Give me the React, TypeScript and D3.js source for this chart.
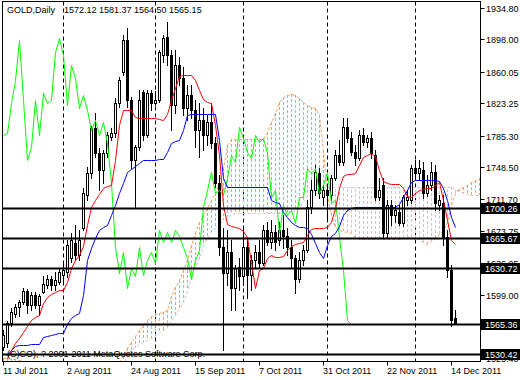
import React from 'react';
import * as d3 from 'd3';

const W = 520;
const H = 380;

const symbolTitle = 'GOLD,Daily';
const lastQuote = ['1572.12', '1581.37', '1564.50', '1565.15'];
const copyright = '(C)CO), ? 2001-2011 MetaQuotes Software Corp.';

const opens = [
  1538.2, 1542.9, 1566.3, 1576.8, 1585.0, 1590.9, 1603.7, 1587.3, 1599.0, 1587.3,
  1602.6, 1610.7, 1617.8, 1610.7, 1614.3, 1622.4, 1626.0, 1642.3, 1659.9, 1645.8,
  1677.4, 1716.0, 1741.8, 1794.4, 1765.2, 1745.3, 1765.2, 1783.9, 1788.6, 1823.7,
  1859.9, 1897.4, 1827.2, 1757.0, 1772.2, 1836.5, 1786.2, 1835.4, 1823.7, 1827.2,
  1879.8, 1900.9, 1879.8, 1821.3, 1868.1, 1852.9, 1817.8, 1833.0, 1815.5, 1792.1,
  1803.8, 1786.2, 1801.4, 1776.9, 1730.1, 1655.2, 1624.8, 1649.4, 1607.2, 1631.8,
  1621.3, 1655.2, 1622.4, 1640.0, 1649.4, 1636.5, 1675.1, 1661.1, 1672.8, 1663.4,
  1675.1, 1668.1, 1655.2, 1642.3, 1617.8, 1640.0, 1651.7, 1702.0, 1721.9, 1741.8,
  1713.7, 1721.9, 1716.0, 1735.9, 1762.8, 1754.7, 1795.6, 1782.7, 1766.3, 1759.3,
  1786.2, 1778.0, 1782.7, 1762.8, 1713.7, 1727.7, 1671.6, 1704.3, 1692.6, 1696.2,
  1683.3, 1710.2, 1710.2, 1747.6, 1741.8, 1745.3, 1718.4, 1727.7, 1743.0, 1704.3,
  1706.7, 1666.9, 1628.3, 1572.12,
];
const highs = [
  1558.1, 1568.6, 1583.8, 1588.5, 1593.2, 1607.2, 1606.1, 1602.6, 1602.6, 1600.2,
  1621.3, 1622.4, 1621.3, 1626.0, 1630.6, 1637.7, 1663.4, 1671.6, 1680.9, 1675.1,
  1724.2, 1748.8, 1796.7, 1812.0, 1771.0, 1768.7, 1789.7, 1794.4, 1829.5, 1854.1,
  1903.2, 1911.4, 1830.7, 1774.5, 1838.9, 1838.9, 1838.9, 1838.9, 1837.7, 1885.7,
  1903.2, 1918.4, 1885.7, 1885.7, 1877.5, 1865.8, 1844.7, 1844.7, 1827.2, 1823.7,
  1817.8, 1809.6, 1823.7, 1783.9, 1739.4, 1677.4, 1675.1, 1663.4, 1634.1, 1642.3,
  1677.4, 1666.9, 1645.8, 1657.5, 1663.4, 1680.9, 1684.5, 1686.8, 1680.9, 1684.5,
  1692.6, 1677.4, 1663.4, 1645.8, 1649.4, 1657.5, 1710.2, 1733.6, 1751.1, 1747.6,
  1727.7, 1726.6, 1739.4, 1768.7, 1780.4, 1806.1, 1806.1, 1789.7, 1774.5, 1792.1,
  1794.4, 1786.2, 1789.7, 1768.7, 1735.9, 1735.9, 1710.2, 1710.2, 1704.3, 1704.3,
  1716.0, 1721.9, 1751.1, 1757.0, 1757.0, 1754.7, 1739.4, 1754.7, 1751.1, 1716.0,
  1716.0, 1675.1, 1634.1, 1581.37,
];
const lows = [
  1534.7, 1538.2, 1562.8, 1573.3, 1574.5, 1588.5, 1578.0, 1581.5, 1583.8, 1575.6,
  1601.4, 1607.2, 1604.9, 1604.9, 1611.9, 1615.4, 1620.1, 1637.7, 1640.0, 1640.0,
  1675.1, 1710.2, 1735.9, 1760.5, 1721.9, 1730.1, 1760.5, 1780.4, 1783.9, 1819.0,
  1856.4, 1819.0, 1747.6, 1700.8, 1768.7, 1780.4, 1783.9, 1815.5, 1821.3, 1824.8,
  1871.6, 1868.1, 1792.1, 1812.0, 1844.7, 1809.6, 1803.8, 1806.1, 1772.2, 1760.5,
  1768.7, 1774.5, 1771.0, 1725.4, 1645.8, 1534.7, 1610.7, 1581.5, 1581.5, 1604.9,
  1610.7, 1595.5, 1604.9, 1630.6, 1630.6, 1634.1, 1657.5, 1654.0, 1651.7, 1657.5,
  1654.0, 1645.8, 1630.6, 1601.4, 1614.3, 1634.1, 1649.4, 1695.0, 1716.0, 1712.5,
  1704.3, 1686.8, 1710.2, 1733.6, 1751.1, 1751.1, 1778.0, 1762.8, 1751.1, 1757.0,
  1774.5, 1772.2, 1759.3, 1710.2, 1710.2, 1665.7, 1665.7, 1680.9, 1684.5, 1680.9,
  1679.8, 1704.3, 1706.7, 1735.9, 1733.6, 1712.5, 1714.9, 1721.9, 1698.5, 1698.5,
  1657.5, 1620.1, 1562.8, 1564.50,
];
const closes = [
  1552.2, 1566.3, 1579.2, 1585.0, 1590.9, 1603.7, 1587.3, 1599.0, 1587.3, 1597.9,
  1611.9, 1617.8, 1610.7, 1616.6, 1626.0, 1628.3, 1657.5, 1663.4, 1645.8, 1663.4,
  1718.4, 1741.8, 1794.4, 1765.2, 1745.3, 1765.2, 1786.2, 1788.6, 1823.7, 1850.6,
  1897.4, 1827.2, 1757.0, 1772.2, 1827.2, 1786.2, 1835.4, 1823.7, 1827.2, 1883.3,
  1899.7, 1879.8, 1821.3, 1868.1, 1852.9, 1817.8, 1833.0, 1815.5, 1792.1, 1803.8,
  1786.2, 1801.4, 1776.9, 1730.1, 1655.2, 1624.8, 1649.4, 1607.2, 1630.6, 1621.3,
  1655.2, 1622.4, 1640.0, 1649.4, 1636.5, 1675.1, 1661.1, 1672.8, 1661.1, 1675.1,
  1668.1, 1655.2, 1642.3, 1617.8, 1640.0, 1651.7, 1702.0, 1721.9, 1743.0, 1718.4,
  1721.9, 1716.0, 1735.9, 1762.8, 1754.7, 1795.6, 1782.7, 1766.3, 1759.3, 1786.2,
  1778.0, 1782.7, 1765.2, 1713.7, 1721.9, 1671.6, 1704.3, 1692.6, 1698.5, 1683.3,
  1713.7, 1713.7, 1747.6, 1741.8, 1747.6, 1718.4, 1727.7, 1743.0, 1706.7, 1710.2,
  1666.9, 1628.3, 1569.8, 1565.15,
];

// Ichimoku: Tenkan-sen (red) and Kijun-sen (blue), read per bar
const tenkan = [
  null, 1525.3, 1534.7, 1542.9, 1548.7, 1555.8, 1562.8, 1569.8, 1573.3, 1575.6,
  1589.7, 1596.7, 1600.2, 1602.6, 1604.9, 1604.9, 1614.3, 1630.6, 1640.0, 1645.8,
  1656.4, 1680.9, 1702.0, 1710.2, 1717.2, 1724.2, 1726.6, 1727.7, 1757.0, 1797.9,
  1815.5, 1815.5, 1815.5, 1807.3, 1806.1, 1806.1, 1806.1, 1806.1, 1806.1, 1804.9,
  1803.8, 1810.8, 1827.2, 1841.2, 1855.2, 1856.4, 1856.4, 1856.4, 1850.6, 1838.9,
  1828.3, 1824.8, 1823.7, 1797.9, 1762.8, 1704.3, 1682.1, 1679.8, 1678.6, 1677.4,
  1673.9, 1666.9, 1637.7, 1607.2, 1628.3, 1630.6, 1642.3, 1645.8, 1643.5, 1643.5,
  1644.7, 1651.7, 1656.4, 1658.7, 1659.9, 1661.1, 1669.2, 1676.3, 1677.4, 1677.4,
  1677.4, 1678.6, 1684.5, 1700.8, 1724.2, 1738.3, 1740.6, 1740.6, 1741.8, 1751.1,
  1760.5, 1762.8, 1765.2, 1761.7, 1745.3, 1732.4, 1730.1, 1728.9, 1728.9, 1728.9,
  1724.2, 1714.9, 1713.7, 1718.4, 1721.9, 1723.1, 1724.2, 1724.2, 1727.7, 1731.3,
  1710.2, 1686.8, 1663.4, 1658.7,
];
const kijun = [
  null, 1528.8, 1534.7, 1539.4, 1540.5, 1540.5, 1540.5, 1541.7, 1541.7, 1541.7,
  1549.9, 1551.1, 1552.2, 1553.4, 1554.6, 1554.6, 1565.1, 1572.1, 1575.6, 1578.0,
  1599.0, 1640.0, 1654.0, 1665.7, 1675.1, 1678.6, 1680.9, 1692.6, 1704.3, 1718.4,
  1730.1, 1743.0, 1746.5, 1750.0, 1753.5, 1757.0, 1757.0, 1757.0, 1757.0, 1758.2,
  1758.2, 1766.3, 1776.9, 1779.2, 1780.4, 1792.1, 1809.6, 1810.8, 1810.8, 1810.8,
  1810.8, 1810.8, 1810.8, 1810.8, 1780.4, 1735.9, 1725.4, 1725.4, 1725.4, 1725.4,
  1725.4, 1725.4, 1725.4, 1725.4, 1725.4, 1725.4, 1725.4, 1710.2, 1707.9, 1706.7,
  1696.2, 1690.3, 1684.5, 1680.9, 1678.6, 1678.6, 1677.4, 1670.4, 1659.9, 1649.4,
  1642.3, 1657.5, 1668.1, 1671.6, 1679.8, 1692.6, 1698.5, 1700.8, 1702.0, 1702.0,
  1702.0, 1702.0, 1702.0, 1702.0, 1702.0, 1702.0, 1702.0, 1702.0, 1702.0, 1705.5,
  1713.7, 1721.9, 1731.3, 1733.6, 1733.6, 1733.6, 1733.6, 1733.6, 1733.6, 1732.4,
  1724.2, 1710.2, 1690.3, 1678.6,
];
// Senkou spans (cloud), shifted 26 bars forward: 120 bars
const senkouA = [
  1525.3, 1525.3, 1524.2, 1524.2, 1523.0, 1521.8, 1520.7, null, null, null,
  null, null, null, null, null, null, null, null, null, null,
  null, null, null, null, null, null, null, null, null, 1520.7,
  1527.7, 1537.0, 1544.1, 1551.1, 1558.1, 1563.9, 1569.8, 1574.5, 1576.8, 1578.0,
  1579.2, 1581.5, 1597.9, 1608.4, 1616.6, 1628.3, 1640.0, 1657.5, 1672.8, 1684.5,
  1692.6, 1700.8, 1710.2, 1718.4, 1730.1, 1747.6, 1774.5, 1781.5, 1781.5, 1781.5,
  1781.5, 1781.5, 1781.5, 1781.5, 1781.5, 1781.5, 1789.7, 1801.4, 1812.0, 1824.8,
  1830.7, 1833.0, 1834.2, 1833.0, 1829.5, 1824.8, 1821.3, 1819.0, 1817.8, 1809.6,
  1768.7, 1716.0, 1692.6, 1678.6, 1675.1, 1673.9, 1672.8, 1671.6, 1666.9, 1664.6,
  1664.6, 1664.6, 1664.6, 1664.6, 1664.6, 1664.6, 1664.6, 1664.6, 1664.6, 1664.6,
  1665.7, 1666.9, 1666.9, 1665.7, 1664.6, 1661.1, 1658.7, 1662.2, 1665.7, 1670.4,
  1675.1, 1684.5, 1704.3, 1718.4, 1723.1, 1725.4, 1727.7, 1731.3, 1733.6, 1735.9,
];
const senkouB = [
  1515.0, 1515.0, 1515.0, 1515.0, 1515.0, 1515.0, 1515.0, null, null, null,
  null, null, null, null, null, null, null, null, null, null,
  null, null, null, null, null, null, null, null, null, 1515.0,
  1515.0, 1529.9, 1534.7, 1538.2, 1541.7, 1544.1, 1546.4, 1548.7, 1551.1, 1554.6,
  1558.1, 1561.6, 1569.8, 1575.6, 1583.8, 1590.9, 1604.9, 1618.9, 1630.6, 1642.3,
  1657.5, 1665.7, 1672.8, 1677.4, 1680.9, 1686.8, 1690.3, 1693.8, 1695.0, 1695.0,
  1695.0, 1695.0, 1695.0, 1695.0, 1695.0, 1695.0, 1695.0, 1695.0, 1695.0, 1695.0,
  1695.0, 1696.2, 1697.3, 1698.5, 1700.8, 1707.9, 1714.9, 1719.6, 1723.1, 1725.4,
  1725.4, 1725.4, 1725.4, 1725.4, 1725.4, 1725.4, 1725.4, 1725.4, 1725.4, 1725.4,
  1725.4, 1725.4, 1725.4, 1725.4, 1725.4, 1725.4, 1725.4, 1725.4, 1725.4, 1725.4,
  1725.4, 1725.4, 1725.4, 1725.4, 1725.4, 1725.4, 1725.4, 1725.4, 1725.4, 1725.4,
  1725.4, 1725.4, 1725.4, 1723.1, 1720.7, 1718.4, 1717.2, 1716.0, 1716.0, 1716.0,
];
const chikouShift = 26;

const priceTicks = ['1934.80', '1898.00', '1860.05', '1823.25', '1785.30', '1748.50', '1711.70', '1673.75', '1636.95', '1599.00', '1562.20', '1525.40'];
const levels = ['1700.26', '1665.67', '1630.72', '1565.36', '1530.42'];
const dateLabels = ['11 Jul 2011', '2 Aug 2011', '24 Aug 2011', '15 Sep 2011', '7 Oct 2011', '31 Oct 2011', '22 Nov 2011', '14 Dec 2011'];
const dateLabelBars = [0, 16, 32, 48, 64, 80, 96, 112];
const monthStartBars = [15, 38, 60, 81, 103];

const FONT = "'Liberation Sans', Arial, sans-serif";

export default function App() {
  const left = 2.5, right = 480.5, top = 1.5, bottom = 361.5;
  const x = d3.scaleLinear().domain([0, 119]).range([3, 479]);
  const y = d3.scaleLinear().domain([1599.0, 1934.8]).range([295, 8]);
  const px = (i: number) => Math.round(x(i)) + 0.5;
  const py = (v: number) => Math.round(y(v));

  const lineGen = d3
    .line<number | null>()
    .defined((d) => d !== null)
    .x((_, i) => px(i))
    .y((d) => py(d as number) + 0.5);

  const chikou = closes.map((_, i) => (i + chikouShift < closes.length ? closes[i + chikouShift] : null));

  return (
    <div style={{ position: 'absolute', left: 0, top: 0 }}>
      <svg width={W} height={H} style={{ display: 'block', background: '#fff' }} fontFamily={FONT}>
        <defs>
          <clipPath id="plot">
            <rect x={left} y={top} width={right - left} height={bottom - top} />
          </clipPath>
        </defs>
        <rect x={0} y={0} width={W} height={H} fill="#fff" />
        <g clipPath="url(#plot)">
          {monthStartBars.map((b) => (
            <line key={'g' + b} x1={px(b)} x2={px(b)} y1={top} y2={bottom} stroke="#000" strokeDasharray="4,3" />
          ))}
          {senkouA.map((a, i) => {
            const b = senkouB[i];
            if (a === null || b === null) return null;
            return (
              <line
                key={'k' + i}
                x1={px(i)}
                x2={px(i)}
                y1={py(a)}
                y2={py(b)}
                stroke={a >= b ? '#F4A460' : '#D8BFD8'}
                strokeDasharray="3,2"
              />
            );
          })}
          <path d={lineGen(senkouB) || ''} fill="none" stroke="#D8BFD8" strokeDasharray="3,2" />
          <path d={lineGen(senkouA) || ''} fill="none" stroke="#F4A460" strokeDasharray="3,2" />
          {opens.map((o, i) => {
            const c = closes[i];
            const cx = Math.round(x(i));
            const t = Math.min(py(o), py(c));
            const bt = Math.max(py(o), py(c));
            const bull = c >= o;
            return (
              <g key={'c' + i}>
                <line x1={cx + 0.5} x2={cx + 0.5} y1={py(highs[i])} y2={py(lows[i]) + 1} stroke="#000" />
                <rect x={cx - 0.5} y={t + 0.5} width={2} height={Math.max(bt - t, 0)} fill={bull ? '#fff' : '#000'} stroke="#000" />
              </g>
            );
          })}
          <path d={lineGen(chikou) || ''} fill="none" stroke="#00FF00" />
          <path d={lineGen(kijun) || ''} fill="none" stroke="#0000FF" />
          <path d={lineGen(tenkan) || ''} fill="none" stroke="#FF0000" />
          {levels.map((l) => (
            <line key={'l' + l} x1={left} x2={right} y1={py(+l) + 0.5} y2={py(+l) + 0.5} stroke="#000" strokeWidth={2} />
          ))}
        </g>
        <rect x={left} y={top} width={right - left} height={bottom - top} fill="none" stroke="#000" />
        <text x={7} y={13} fontSize={9} fill="#000">
          {symbolTitle}
        </text>
        <text x={64} y={13} fontSize={9} fill="#000">
          {lastQuote.join(' ')}
        </text>
        <text x={7} y={357} fontSize={9} fill="#000">
          {copyright}
        </text>
        {priceTicks.map((t) => (
          <g key={'t' + t}>
            <line x1={right} x2={right + 4} y1={py(+t) + 0.5} y2={py(+t) + 0.5} stroke="#000" />
            <text x={486} y={py(+t) + 3.5} fontSize={9} fill="#000">
              {t}
            </text>
          </g>
        ))}
        {levels.map((l) => (
          <g key={'b' + l}>
            <rect x={481} y={py(+l) - 5} width={39} height={11} fill="#000" />
            <text x={485} y={py(+l) + 4} fontSize={9} fill="#fff">
              {l}
            </text>
          </g>
        ))}
        {dateLabelBars.map((b, k) => (
          <g key={'d' + b}>
            <line x1={px(b)} x2={px(b)} y1={bottom} y2={bottom + 4} stroke="#000" />
            <text x={Math.round(x(b))} y={374} fontSize={9} fill="#000">
              {dateLabels[k]}
            </text>
          </g>
        ))}
      </svg>
    </div>
  );
}
